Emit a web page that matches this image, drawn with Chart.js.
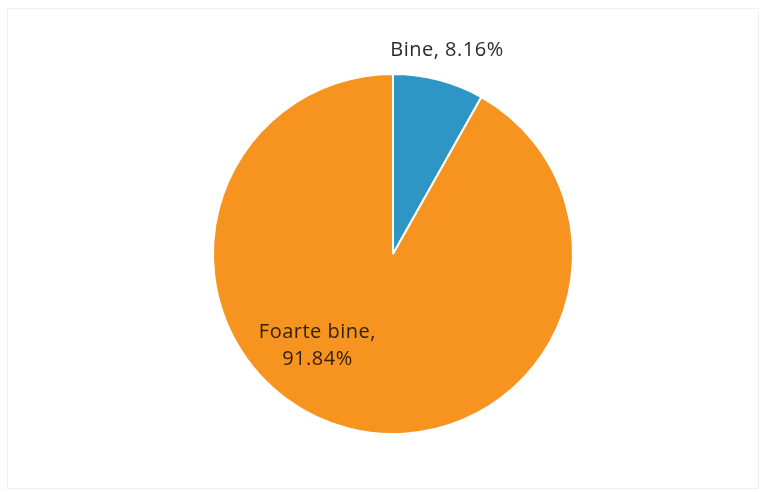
<!DOCTYPE html>
<html>
<head>
<meta charset="utf-8">
<script src="https://cdn.jsdelivr.net/npm/chart.js"></script>
<style>
  html, body { margin: 0; padding: 0; background: #fff; }
  #wrap { position: relative; width: 768px; height: 492px; }
  #frame { position: absolute; left: 7px; top: 8px; width: 752px; height: 481px; border: 1px solid #f0f0f0; box-sizing: border-box; }
</style>
</head>
<body>
<div id="wrap">
  <div id="frame"></div>
  <canvas id="pie" width="768" height="492"></canvas>
</div>
<script>
// categories and values (percent)
const labels = ['Bine', 'Foarte bine'];
const values = [8.16, 91.84];
const colors = ['#2e96c4', '#f7931f'];

// label placement relative to pie centre, in units of radius
const labelSpots = [
  { dx: 0.30, dy: -1.13, lines: ['Bine, 8.16%'], color: '#2b2b2b' },
  { dx: -0.42, dy: 0.51, lines: ['Foarte bine,', '91.84%'], color: '#35200c' }
];

const pieLabels = {
  id: 'pieLabels',
  afterDatasetsDraw(chart) {
    const arc = chart.getDatasetMeta(0).data[0];
    const cx = arc.x, cy = arc.y, r = arc.outerRadius;
    const ctx = chart.ctx;
    ctx.save();
    ctx.font = '20px "Open Sans", Lato, sans-serif';
    ctx.letterSpacing = '0.5px';
    ctx.textAlign = 'center';
    ctx.textBaseline = 'middle';
    labelSpots.forEach(s => {
      ctx.fillStyle = s.color;
      const x = cx + s.dx * r;
      const y0 = cy + s.dy * r - (s.lines.length - 1) * 13.5;
      s.lines.forEach((t, i) => ctx.fillText(t, x, y0 + i * 27));
    });
    ctx.restore();
  }
};

new Chart(document.getElementById('pie'), {
  type: 'pie',
  data: {
    labels: labels,
    datasets: [{
      data: values,
      backgroundColor: colors,
      borderColor: '#ffffff',
      borderWidth: 2
    }]
  },
  options: {
    responsive: false,
    animation: false,
    layout: { padding: { left: 212, right: 194, top: 72, bottom: 56 } },
    plugins: {
      legend: { display: false },
      tooltip: { enabled: false }
    }
  },
  plugins: [pieLabels]
});
</script>
</body>
</html>
